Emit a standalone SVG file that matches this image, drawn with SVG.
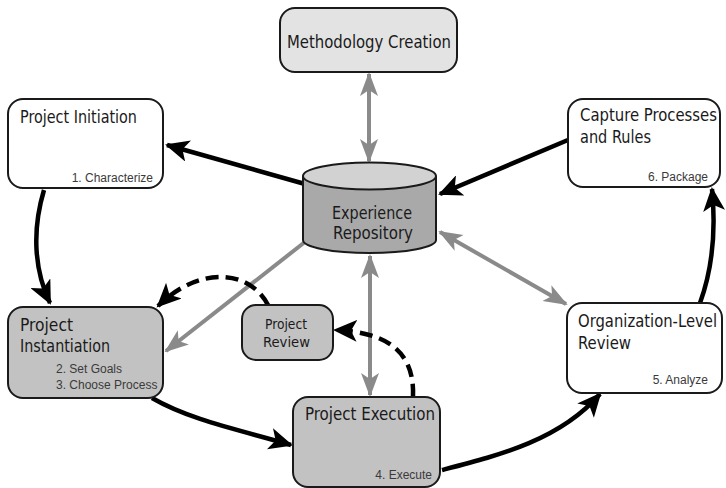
<svg xmlns="http://www.w3.org/2000/svg" width="726" height="488" viewBox="0 0 726 488">
  <style>
    .box { stroke: #1a1a1a; stroke-width: 2; }
    .white { fill: #ffffff; }
    .light { fill: #e3e3e3; }
    .mid { fill: #c2c2c2; }
    .title { font-family: "DejaVu Sans Condensed", "Liberation Sans", sans-serif; font-size: 17px; fill: #1a1a1a; }
    .rev { font-size: 13.5px; }
    .small { font-family: "Liberation Sans", Arial, sans-serif; font-size: 12px; fill: #3a3a3a; }
    .blk { fill: none; stroke: #000000; stroke-width: 4.5; }
    .gry { fill: none; stroke: #8a8a8a; stroke-width: 4; }
    .dash { fill: none; stroke: #000000; stroke-width: 4.5; stroke-dasharray: 13 7; }
  </style>
  <defs>
    <marker id="headBlack" markerUnits="userSpaceOnUse" markerWidth="26" markerHeight="22" refX="22" refY="11" orient="auto">
      <path d="M0,0 L24,11 L0,22 L6,11 Z" fill="#000000"/>
    </marker>
    <marker id="headGray" markerUnits="userSpaceOnUse" markerWidth="24" markerHeight="20" refX="22" refY="10" orient="auto">
      <path d="M0,1 L24,10 L0,19 L6,10 Z" fill="#8a8a8a"/>
    </marker>
    <marker id="tailGray" markerUnits="userSpaceOnUse" markerWidth="24" markerHeight="20" refX="2" refY="10" orient="auto">
      <path d="M24,1 L0,10 L24,19 L18,10 Z" fill="#8a8a8a"/>
    </marker>
  </defs>

  <g id="connectors">
    <!-- repository links -->
    <line class="gry" x1="369" y1="74" x2="369" y2="161" marker-start="url(#tailGray)" marker-end="url(#headGray)"/>
    <line class="blk" x1="305" y1="184" x2="167" y2="145" marker-end="url(#headBlack)"/>
    <line class="blk" x1="568" y1="140" x2="440" y2="194" marker-end="url(#headBlack)"/>
    <line class="gry" x1="440" y1="232" x2="566" y2="304" marker-start="url(#tailGray)" marker-end="url(#headGray)"/>
    <line class="gry" x1="310" y1="238" x2="166" y2="351" marker-end="url(#headGray)"/>
    <line class="gry" x1="370" y1="256" x2="370" y2="395" marker-start="url(#tailGray)" marker-end="url(#headGray)"/>
    <!-- process cycle -->
    <path class="blk" d="M44,190 C32,230 34,270 50,303" marker-end="url(#headBlack)"/>
    <path class="blk" d="M152,398 C190,420 240,430 291,445" marker-end="url(#headBlack)"/>
    <path class="blk" d="M442,470 C500,455 560,440 600,394" marker-end="url(#headBlack)"/>
    <path class="blk" d="M700,303 C712,270 716,230 712,189" marker-end="url(#headBlack)"/>
    <!-- review feedback -->
    <path class="dash" d="M268,305 C250,270 200,265 158,306" marker-end="url(#headBlack)"/>
    <path class="dash" d="M413,397 C415,350 385,332 335,330" marker-end="url(#headBlack)"/>
  </g>

  <g id="methodology-creation">
    <rect class="box light" x="280" y="8" width="177" height="64" rx="15"/>
    <text class="title" x="287" y="48" textLength="164" lengthAdjust="spacingAndGlyphs">Methodology Creation</text>
  </g>

  <g id="project-initiation">
    <rect class="box white" x="8" y="99" width="155" height="89" rx="15"/>
    <text class="title" x="20" y="123" textLength="117" lengthAdjust="spacingAndGlyphs">Project Initiation</text>
    <text class="small" x="153" y="182" text-anchor="end">1. Characterize</text>
  </g>

  <g id="capture-processes">
    <rect class="box white" x="568" y="99" width="152" height="88" rx="15"/>
    <text class="title" x="580" y="121" textLength="137" lengthAdjust="spacingAndGlyphs">Capture Processes</text>
    <text class="title" x="580" y="143" textLength="71" lengthAdjust="spacingAndGlyphs">and Rules</text>
    <text class="small" x="708" y="181" text-anchor="end">6. Package</text>
  </g>

  <g id="experience-repository">
    <path class="box" d="M303,176 L303,240 A66.5,13 0 0 0 436,240 L436,176" fill="#a9a9a9"/>
    <ellipse class="box" cx="369.5" cy="176" rx="66.5" ry="13.5" fill="#d2d2d2"/>
    <text class="title" x="332" y="219" textLength="80" lengthAdjust="spacingAndGlyphs">Experience</text>
    <text class="title" x="333" y="239" textLength="80" lengthAdjust="spacingAndGlyphs">Repository</text>
  </g>

  <g id="project-instantiation">
    <rect class="box mid" x="8" y="307" width="155" height="91" rx="15"/>
    <text class="title" x="20" y="331" textLength="53" lengthAdjust="spacingAndGlyphs">Project</text>
    <text class="title" x="20" y="352" textLength="90" lengthAdjust="spacingAndGlyphs">Instantiation</text>
    <text class="small" x="56" y="373">2. Set Goals</text>
    <text class="small" x="56" y="389">3. Choose Process</text>
  </g>

  <g id="project-review">
    <rect class="box mid" x="242" y="305" width="91" height="55" rx="14"/>
    <text class="title rev" x="265" y="329" textLength="42" lengthAdjust="spacingAndGlyphs">Project</text>
    <text class="title rev" x="263" y="347" textLength="47" lengthAdjust="spacingAndGlyphs">Review</text>
  </g>

  <g id="project-execution">
    <rect class="box mid" x="293" y="397" width="147" height="90" rx="15"/>
    <text class="title" x="305" y="420" textLength="130" lengthAdjust="spacingAndGlyphs">Project Execution</text>
    <text class="small" x="432" y="479" text-anchor="end">4. Execute</text>
  </g>

  <g id="organization-review">
    <rect class="box white" x="567" y="303" width="155" height="90" rx="15"/>
    <text class="title" x="578" y="327" textLength="139" lengthAdjust="spacingAndGlyphs">Organization-Level</text>
    <text class="title" x="578" y="349" textLength="53" lengthAdjust="spacingAndGlyphs">Review</text>
    <text class="small" x="708" y="384" text-anchor="end">5. Analyze</text>
  </g>
</svg>
